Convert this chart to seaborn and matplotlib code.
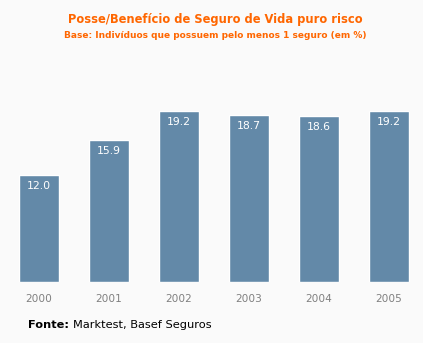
import matplotlib
matplotlib.use("Agg")
import matplotlib.pyplot as plt
import seaborn as sns
import pandas as pd

years = ["2000", "2001", "2002", "2003", "2004", "2005"]
values = [12.0, 15.9, 19.2, 18.7, 18.6, 19.2]
title = "Posse/Benefício de Seguro de Vida puro risco"
subtitle = "Base: Indivíduos que possuem pelo menos 1 seguro (em %)"

sns.set_style("white")
plt.rcParams['font.family'] = ['DejaVu Sans']

W, H = 423, 343
fig = plt.figure(figsize=(W / 100, H / 100), dpi=100)
fig.patch.set_facecolor("#FAFAFA")

left_px, right_px = 11, 417
base_px, top_px = 282, 282 - 20 * 8.92
ax = fig.add_axes([left_px / W, (H - base_px) / H, (right_px - left_px) / W, (base_px - top_px) / H])
ax.set_facecolor("#FAFAFA")

df = pd.DataFrame({"year": years, "value": values})
sns.barplot(data=df, x="year", y="value", color="#6389A8", saturation=1, width=40 / 70, ax=ax)
ax.set_xlim(-0.4, 5.4)
ax.set_ylim(0, 20)
for s in ax.spines.values():
    s.set_visible(False)
ax.set_yticks([])
ax.set_xlabel("")
ax.set_ylabel("")
ax.tick_params(axis="x", length=0, pad=9, labelsize=7.6, labelcolor="#808080")

for i, v in enumerate(values):
    ax.annotate(f"{v:.1f}", (i, v), xytext=(0, -8), textcoords="offset points",
                ha="center", va="center", color="white", fontsize=7.8)

fig.text(215 / W, 1 - 20 / H, title, ha="center", va="center", color="#FF6600",
         fontsize=8.3, fontweight="bold")
fig.text(215 / W, 1 - 36 / H, subtitle, ha="center", va="center", color="#FF6600",
         fontsize=6.5, fontweight="bold")

fig.text(28 / W, 1 - 325 / H, "Fonte:", ha="left", va="center", color="black",
         fontsize=8.2, fontweight="bold")
fig.text(73 / W, 1 - 325 / H, "Marktest, Basef Seguros", ha="left", va="center",
         color="black", fontsize=8.2)

fig.savefig("out.png", dpi=100, facecolor=fig.get_facecolor())
